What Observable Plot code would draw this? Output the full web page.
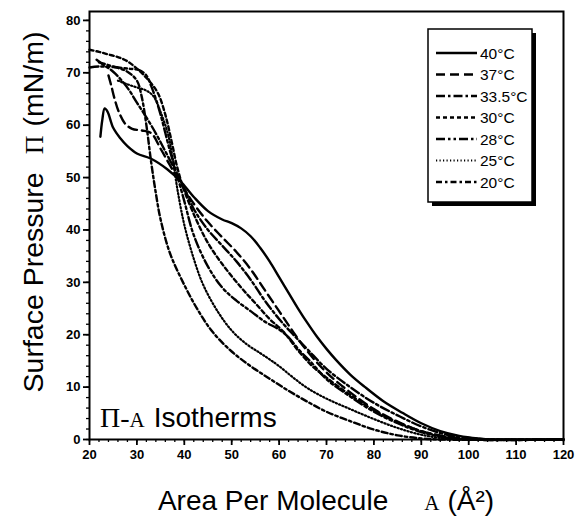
<!DOCTYPE html>
<html><head><meta charset="utf-8">
<script src="https://cdn.jsdelivr.net/npm/d3@7"></script>
<script src="https://cdn.jsdelivr.net/npm/@observablehq/plot@0.6"></script>
<style>body{margin:0;background:#fff} svg{display:block}</style>
</head><body><div id="chart"></div>
<script>
// ---- data ----
const temps = ["40°C","37°C","33.5°C","30°C","28°C","25°C","20°C"];

const area40 = [22.3,22.7,23.2,23.8,25,26.5,28,30,33,36.4,39.2,42,45,48,50,52,54,56,58,60,62,64,66,68,70,72,75,78,82,86,90,94,98,102,105,120];
const pres40 = [57.8,61,63.2,62.6,59.5,57.5,56,54.6,53.6,51.6,49.3,46.3,43.6,42,41.3,40.3,38.8,36.6,34,31,28,25,22.2,19.6,17.3,15.2,12.4,10.1,7.3,5.1,3.1,1.6,0.7,0.2,0,0];

const area37 = [24,24.6,25.3,26.2,27.5,29,31,33,35,37,39,42,45,48,51,54,57,60,63,66,70,75,80,85,90,95,100,103,120];
const pres37 = [69.5,67.5,65,62.5,60.3,59.3,59,58.5,55.5,52.3,49.2,45,41.5,38.6,35.8,32.5,28.5,24.5,20.5,16.8,12.8,9,5.8,3.4,1.6,0.6,0.1,0,0];

const area335 = [21.5,23,25,27,28.5,30,31.5,33,34.5,36,38,40,42,45,48,51,54,57,60,63,66,70,75,80,85,90,95,100,104,120];
const pres335 = [72.5,71.5,70.2,68.3,66.5,64.3,62.2,60,57.6,55,51.5,48,44,40,37,34,30.5,26.5,23,20,17.2,13.5,10,7,4.6,2.5,1,0.3,0,0];

const area30 = [20,22,24,26,28,30,31.5,33,34.5,36,37.3,38.5,40,42.5,45,48,52,55,58,61,64,67,70,75,80,85,90,95,100,120];
const pres30 = [74.4,74,73.5,73,72.2,70.8,69.5,68,66,62,57,52,47.5,42,37.5,33.5,29,26,23,20.5,17,14,11.8,8.5,5.6,3.3,1.6,0.5,0,0];

const area28 = [20,22,25,28,30.5,32,33,34,35,36,37,38,40,42,45,48,51,54,57,60,62,64,67,70,75,80,85,90,95,99,120];
const pres28 = [71,71.2,71.1,70.8,70.5,69.5,67.5,65,62,58.5,55,52,45.5,39,33,29,26.5,24.5,22.5,21,19.5,17.3,14.5,11.5,8.2,5.3,3.1,1.4,0.4,0,0];

const area25 = [26,28,30,32,33.5,35,36.5,37.5,38.5,40,42,44,47,50,53,56,58,60,63,66,70,75,80,85,90,95,98,120];
const pres25 = [68.5,67.8,67.2,66.6,65.5,62.5,58.5,54,48,41,34.5,29.5,24.5,20.8,18.3,16.5,15.3,14,11.8,9.8,7.8,5.8,3.9,2.2,0.9,0.2,0,0];

const area20 = [22,25,28,30,31,32,33,34,35,37,40,43,46,50,54,58,62,66,70,75,80,85,90,94,120];
const pres20 = [72,71.2,70.2,68.5,65.5,60,53,47,42,35.5,29.5,24.5,20.5,16.8,14,11.6,9.3,7.2,5.3,3.5,1.9,0.8,0.2,0,0];

const xTicks = [20,30,40,50,60,70,80,90,100,110,120];
const yTicks = [0,10,20,30,40,50,60,70,80];

// ---- styles ----
const dashStyles = ["none","9,5","9,3,2.5,3","4,3","9,3,2.5,3,2.5,3","1.2,2.3","6,3,2.5,3"];
const widths = [2.4,2.4,2.4,2.4,2.4,2.2,2.4];

const areas = [area40,area37,area335,area30,area28,area25,area20];
const pressures = [pres40,pres37,pres335,pres30,pres28,pres25,pres20];
const tables = temps.map((t,k)=>areas[k].map((a,i)=>({temp:t, area:a, pressure:pressures[k][i]})));

const xMinor = d3.range(20,120.01,2);
const yMinor = d3.range(0,80.01,2);

const sans = "'Liberation Sans', Arial, Helvetica, sans-serif";
const serif = "'Liberation Serif', 'Times New Roman', serif";

const plot = Plot.plot({
  width:577, height:519,
  marginLeft:89, marginRight:14, marginTop:11, marginBottom:80,
  x:{domain:[20,120]}, y:{domain:[0,81.7]},
  style:{fontFamily:sans, background:"#fff", color:"#000"},
  marks:[
    Plot.axisX({ticks:xMinor, tickSize:3, tickFormat:()=>"", label:null, strokeWidth:1.3}),
    Plot.axisY({ticks:yMinor, tickSize:3, tickFormat:()=>"", label:null, strokeWidth:1.3}),
    Plot.axisX({ticks:xTicks, tickSize:6, tickPadding:4, label:null, fontSize:13, fontWeight:"bold", strokeWidth:1.8}),
    Plot.axisY({ticks:yTicks, tickSize:6, tickPadding:3, label:null, fontSize:13, fontWeight:"bold", strokeWidth:1.8}),
    ...tables.map((tb,k)=>Plot.line(tb,{x:"area", y:"pressure", stroke:"#000", strokeWidth:widths[k], strokeDasharray:dashStyles[k], curve:"catmull-rom"})),
    Plot.frame({stroke:"#000", strokeWidth:2})
  ]
});
document.getElementById("chart").appendChild(plot);

const svg = d3.select(plot);

// legend
const lg = svg.append("g").attr("text-anchor","start");
lg.append("rect").attr("x",432).attr("y",33).attr("width",104).attr("height",173).attr("fill","#000");
lg.append("rect").attr("x",428).attr("y",29).attr("width",104).attr("height",173).attr("fill","#fff").attr("stroke","#000").attr("stroke-width",1.5);
temps.forEach((t,k)=>{
  const y = 53 + k*21.5;
  lg.append("line").attr("x1",436).attr("x2",477).attr("y1",y).attr("y2",y)
    .attr("stroke","#000").attr("stroke-width",widths[k]).attr("stroke-dasharray",dashStyles[k]);
  lg.append("text").attr("x",480).attr("y",y+5.5).attr("text-anchor","start").attr("font-family",sans).attr("font-size",15.5).text(t);
});

// x title
const xt = svg.append("text").attr("x",326).attr("y",510).attr("text-anchor","middle")
  .attr("font-family",sans).attr("font-size",28);
xt.append("tspan").text("Area Per Molecule");
xt.append("tspan").attr("dx",36).attr("font-family",serif).attr("font-size",21).text("A");
xt.append("tspan").attr("dx",8).text("(Å²)");

// y title
const yt = svg.append("text").attr("transform","translate(43,212) rotate(-90)").attr("text-anchor","middle")
  .attr("font-family",sans).attr("font-size",28.5);
yt.append("tspan").text("Surface Pressure");
yt.append("tspan").attr("dx",18).attr("font-family",serif).attr("font-size",26).text("Π");
yt.append("tspan").attr("dx",9).text("(mN/m)");

// inner label
const il = svg.append("text").attr("x",100).attr("y",427).attr("text-anchor","start").attr("font-family",sans).attr("font-size",28);
il.append("tspan").attr("font-family",serif).attr("font-size",28).text("Π-");
il.append("tspan").attr("font-family",serif).attr("font-size",21).text("A");
il.append("tspan").attr("dx",9).text("Isotherms");
</script>
</body></html>
